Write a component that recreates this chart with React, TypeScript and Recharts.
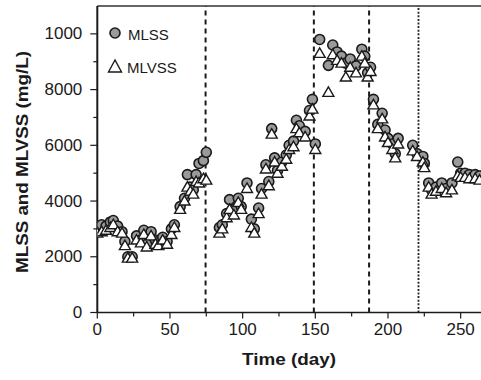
import React from 'react';
import { ScatterChart, Scatter, XAxis, YAxis, ReferenceLine, Legend } from 'recharts';

// ---- data ----
const days = [
  0, 3, 6, 9, 11, 14, 17, 19, 21, 24, 27, 30, 32, 34, 37, 40, 42, 45, 48, 51, 53, 57, 60, 62, 64, 66, 68, 70, 73, 75,
  84, 86, 89, 91, 94, 97, 99, 103, 106, 108, 111, 113, 116, 118, 120, 122, 124, 127, 130, 132, 135, 137, 139, 143, 146, 148, 150,
  153, 159, 162, 165, 168, 171, 174, 178, 182, 184, 186, 188,
  190, 193, 196, 198, 200, 203, 205, 207, 217, 220, 224, 225,
  228, 230, 233, 237, 240, 244, 248, 250, 253, 256, 260, 263,
];
const mlss = [
  3000, 3150, 3100, 3250, 3300, 3100, 2900, 2550, 2000, 2000, 2750, 2600, 2950, 2450, 2900, 2600, 2550, 2700, 2550, 3000, 3150, 3800, 4100, 4950, 4500, 4400, 4950, 5350, 5450, 5750,
  3050, 3150, 3550, 4050, 3700, 4100, 3800, 4650, 3350, 3000, 3750, 4450, 5300, 4700, 6600, 5550, 5100, 5400, 5650, 6000, 6150, 6900, 6700, 6500, 7250, 7650, 6050,
  9800, 8870, 9600, 9350, 9200, 8950, 9100, 8850, 9450, 9200, 8600, 8800,
  7650, 6750, 7150, 6550, 6250, 6050, 5700, 6250, 6000, 5700, 5600, 5350,
  4650, 4400, 4500, 4650, 4450, 4650, 5400, 5000, 5000, 4950, 4950, 4900,
];
const mlvss = [
  2850, 2900, 2950, 3050, 3150, 2900, 2850, 2400, 1950, 1950, 2600, 2500, 2800, 2350, 2750, 2450, 2400, 2600, 2450, 2800, 3050, 3700, 4000, 4500, 4350, 4250, 4700, 4650, 4800, 4750,
  2850, 3000, 3400, 3700, 3500, 3950, 3700, 4450, 3050, 2850, 3550, 4250, 5150, 4550, 6400, 5400, 5000, 5250, 5500, 5850, 5950, 6600, 6450, 6300, 7050, 7300, 5850,
  9300, 7900, 9250, 9050, 8950, 8450, 8800, 8600, 9200, 8950, 8450, 8650,
  7450, 6600, 6950, 6300, 6100, 5850, 5550, 6050, 5800, 5600, 5400, 5200,
  4500, 4250, 4350, 4450, 4300, 4400, 4900, 4850, 4850, 4800, 4800, 4750,
];
const xTicks = [0, 25, 50, 75, 100, 125, 150, 175, 200, 225, 250];
const yTicks = [0, 1000, 2000, 3000, 4000, 5000, 6000, 7000, 8000, 9000, 10000];
const dashedDays = [74.5, 149, 187];
const dottedDay = 221;

const mlssData = days.map((d, i) => ({ day: d, value: mlss[i] }));
const mlvssData = days.map((d, i) => ({ day: d, value: mlvss[i] }));

const FONT = '"Liberation Sans", Arial, Helvetica, sans-serif';
const INK = '#1a1a1a';

const CircleShape = (p: any) => (
  <circle cx={p.cx} cy={p.cy} r={5} fill="#9a9a9a" stroke={INK} strokeWidth={1.6} />
);
const TriangleShape = (p: any) => (
  <polygon
    points={`${p.cx},${p.cy - 5.5} ${p.cx - 5.5},${p.cy + 4} ${p.cx + 5.5},${p.cy + 4}`}
    fill="#ffffff"
    stroke={INK}
    strokeWidth={1.4}
  />
);

const XTick = (p: any) => {
  const v = p.payload.value;
  const major = v % 50 === 0;
  return (
    <g>
      <line x1={p.x} x2={p.x} y1={p.y} y2={p.y + (major ? 6 : 4)} stroke={INK} strokeWidth={1.2} />
      {major && (
        <text x={p.x} y={p.y + 17} textAnchor="middle" dominantBaseline="central" fontSize={17} fill={INK} fontFamily={FONT}>
          {v}
        </text>
      )}
    </g>
  );
};

const YTick = (p: any) => {
  const v = p.payload.value;
  const major = v % 2000 === 0;
  const label = v === 10000 ? '1000' : String(v);
  return (
    <g>
      <line x1={p.x - (major ? 7 : 4)} x2={p.x} y1={p.y} y2={p.y} stroke={INK} strokeWidth={1.2} />
      {major && (
        <text x={p.x - 15} y={p.y} textAnchor="end" dominantBaseline="central" fontSize={17} fill={INK} fontFamily={FONT}>
          {label}
        </text>
      )}
    </g>
  );
};

const LegendContent = () => (
  <svg width={90} height={56} style={{ display: 'block' }}>
    <circle cx={10} cy={11} r={5} fill="#9a9a9a" stroke={INK} strokeWidth={1.6} />
    <text x={23} y={12} dominantBaseline="central" fontSize={15} fill={INK} fontFamily={FONT}>MLSS</text>
    <polygon points="10,38 3.5,50 16.5,50" fill="#fff" stroke={INK} strokeWidth={1.4} />
    <text x={22} y={45} dominantBaseline="central" fontSize={15} fill={INK} fontFamily={FONT}>MLVSS</text>
  </svg>
);

export default function App() {
  return (
    <div style={{ position: 'absolute', left: 0, top: 0, width: 481, height: 380, background: '#fff' }}>
      <ScatterChart width={481} height={380} margin={{ top: 6, right: 0, bottom: 0, left: 0 }} style={{ fontFamily: FONT }}>
        <XAxis
          type="number"
          dataKey="day"
          domain={[0, 264]}
          ticks={xTicks}
          interval={0}
          allowDataOverflow
          height={67.5}
          tickSize={0}
          tickMargin={0}
          tickLine={false}
          tick={<XTick />}
          axisLine={{ stroke: INK, strokeWidth: 1.3 }}
          label={() => (
            <text
              x={289}
              y={359}
              textAnchor="middle"
              dominantBaseline="central"
              fontSize={16}
              fontWeight="bold"
              fill={INK}
              fontFamily={FONT}
              textLength={94}
              lengthAdjust="spacingAndGlyphs"
            >
              Time (day)
            </text>
          )}
        />
        <YAxis
          type="number"
          dataKey="value"
          domain={[0, 11000]}
          ticks={yTicks}
          interval={0}
          allowDataOverflow
          width={97.3}
          tickSize={0}
          tickMargin={0}
          tickLine={false}
          tick={<YTick />}
          axisLine={{ stroke: INK, strokeWidth: 2 }}
          label={() => (
            <text
              x={22}
              y={162}
              transform="rotate(-90 22 162)"
              textAnchor="middle"
              dominantBaseline="central"
              fontSize={16}
              fontWeight="bold"
              fill={INK}
              fontFamily={FONT}
              textLength={222}
              lengthAdjust="spacingAndGlyphs"
            >
              MLSS and MLVSS (mg/L)
            </text>
          )}
        />
        <ReferenceLine y={11000} stroke="#333" strokeWidth={1.5} ifOverflow="visible" />
        {dashedDays.map((d) => (
          <ReferenceLine key={d} x={d} stroke={INK} strokeWidth={2} strokeDasharray="5 4" />
        ))}
        <ReferenceLine x={dottedDay} stroke="#222" strokeWidth={1.8} strokeDasharray="2 1.6" />
        <Legend
          layout="vertical"
          align="center"
          verticalAlign="middle"
          content={<LegendContent />}
          wrapperStyle={{ position: 'absolute', left: 105, top: 22, width: 90, height: 56 }}
        />
        <Scatter name="MLSS" data={mlssData} shape={CircleShape} isAnimationActive={false} />
        <Scatter name="MLVSS" data={mlvssData} shape={TriangleShape} isAnimationActive={false} />
      </ScatterChart>
    </div>
  );
}
